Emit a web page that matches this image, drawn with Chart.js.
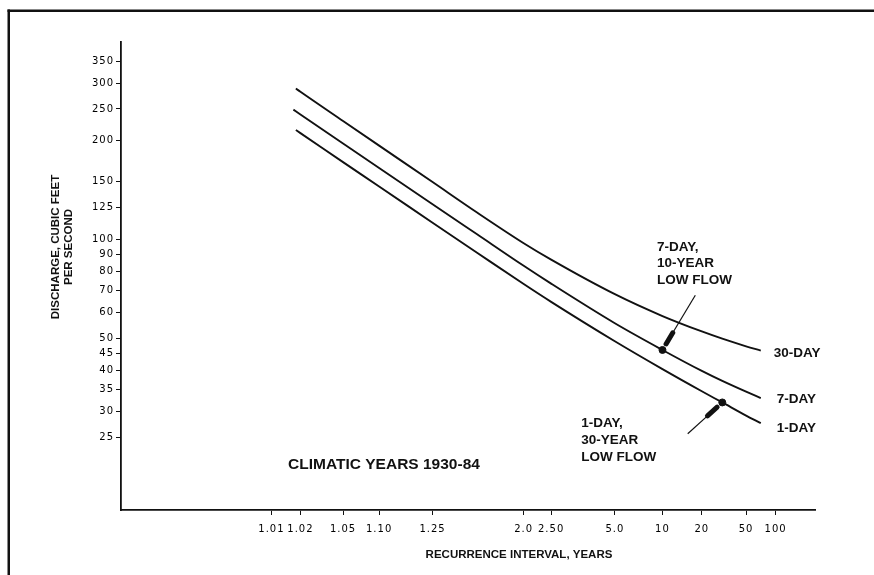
<!DOCTYPE html>
<html>
<head>
<meta charset="utf-8">
<script src="https://cdn.jsdelivr.net/npm/chart.js@4.4.1/dist/chart.umd.min.js"></script>
<style>
  html, body { margin: 0; padding: 0; background: #fff; }
  #wrap { width: 874px; height: 575px; }
</style>
</head>
<body>
<div id="wrap"><canvas id="flow-chart" width="874" height="575"></canvas></div>
<script>
// tick marks on the recurrence interval axis
var xTickValues = [1.01, 1.02, 1.05, 1.10, 1.25, 2.0, 2.50, 5.0, 10, 20, 50, 100];
var xTickLabels = ["1.01", "1.02", "1.05", "1.10", "1.25", "2.0", "2.50", "5.0", "10", "20", "50", "100"];
var yTickValues = [25, 30, 35, 40, 45, 50, 60, 70, 80, 90, 100, 125, 150, 200, 250, 300, 350];

// recurrence interval (years) and discharge (cfs)
var interval30Day = [1.018, 1.02, 1.05, 1.1, 1.25, 1.5, 2, 2.5, 5, 10, 20, 30, 50, 70];
var flow30Day = [288.6, 282.1, 229.8, 193.3, 149.7, 120.9, 97.5, 86.9, 68.2, 58.5, 52.5, 49.9, 47.3, 45.9];

var interval7Day = [1.017, 1.02, 1.05, 1.1, 1.25, 1.5, 2, 2.5, 5, 10, 20, 30, 50, 70];
var flow7Day = [248.9, 240.5, 196.3, 165.3, 128.2, 103.8, 83.2, 73.4, 55.6, 46.1, 39.8, 37.1, 34.4, 32.9];

var interval1Day = [1.018, 1.02, 1.05, 1.1, 1.25, 1.5, 2, 2.5, 5, 10, 20, 30, 50, 70];
var flow1Day = [215.7, 211.1, 172.2, 145.2, 112.6, 91.2, 73.2, 64.6, 49.0, 40.3, 34.5, 31.9, 29.1, 27.6];

// 7-day 10-year and 1-day 30-year low flows
var lowFlowInterval = [10, 30];
var lowFlowValue = [46.1, 31.9];

var curveLabels = ["30-DAY", "7-DAY", "1-DAY"];

// inverse of the standard normal cdf (Acklam)
function normInv(p) {
    var a = [-3.969683028665376e+01, 2.209460984245205e+02, -2.759285104469687e+02, 1.383577518672690e+02, -3.066479806614716e+01, 2.506628277459239e+00];
    var b = [-5.447609879822406e+01, 1.615858368580409e+02, -1.556989798598866e+02, 6.680131188771972e+01, -1.328068155288572e+01];
    var c = [-7.784894002430293e-03, -3.223964580411365e-01, -2.400758277161838e+00, -2.549732539343734e+00, 4.374664141464968e+00, 2.938163982698783e+00];
    var d = [7.784695709041462e-03, 3.224671290700398e-01, 2.445134137142996e+00, 3.754408661907416e+00];
    var q, r;
    if (p < 0.02425) {
        q = Math.sqrt(-2 * Math.log(p));
        return (((((c[0]*q+c[1])*q+c[2])*q+c[3])*q+c[4])*q+c[5]) / ((((d[0]*q+d[1])*q+d[2])*q+d[3])*q+1);
    }
    if (p > 1 - 0.02425) {
        q = Math.sqrt(-2 * Math.log(1 - p));
        return -(((((c[0]*q+c[1])*q+c[2])*q+c[3])*q+c[4])*q+c[5]) / ((((d[0]*q+d[1])*q+d[2])*q+d[3])*q+1);
    }
    q = p - 0.5; r = q * q;
    return (((((a[0]*r+a[1])*r+a[2])*r+a[3])*r+a[4])*r+a[5])*q / (((((b[0]*r+b[1])*r+b[2])*r+b[3])*r+b[4])*r+1);
}
function normCdf(z) {
    var t = 1 / (1 + 0.2316419 * Math.abs(z));
    var y = 0.3989423 * Math.exp(-z * z / 2) * t * (0.3193815 + t * (-0.3565638 + t * (1.781478 + t * (-1.821256 + t * 1.330274))));
    return z > 0 ? 1 - y : y;
}
function zOf(T) { return normInv(1 - 1 / T); }

// normal probability axis, values are recurrence intervals
class ProbabilityScale extends Chart.Scale {
    determineDataLimits() {
        this.min = this.options.min;
        this.max = this.options.max;
    }
    buildTicks() {
        return xTickValues.map(function(v) { return { value: v }; });
    }
    configure() {
        super.configure();
        this._zMin = zOf(this.min);
        this._zMax = zOf(this.max);
    }
    getPixelForValue(v) {
        return this.getPixelForDecimal((zOf(v) - this._zMin) / (this._zMax - this._zMin));
    }
    getValueForPixel(px) {
        var z = this._zMin + this.getDecimalForPixel(px) * (this._zMax - this._zMin);
        return 1 / (1 - normCdf(z));
    }
    getLabelForValue(v) { return String(v); }
}
ProbabilityScale.id = "probability";
ProbabilityScale.defaults = {};
Chart.register(ProbabilityScale);

function points(xs, ys) {
    return xs.map(function(x, i) { return { x: x, y: ys[i] }; });
}

var ink = "#111";
var labelFont = "bold 13.5px 'Liberation Sans', Arial, sans-serif";

// text blocks placed in data coordinates
var notes = [
    { lines: ["CLIMATIC YEARS 1930-84"], at: [1.015, 20.6], step: 0, font: "bold 15.5px 'Liberation Sans', Arial, sans-serif" },
    { lines: ["7-DAY,", "10-YEAR", "LOW FLOW"], at: [9.17, 94.8], step: 16.5, font: labelFont },
    { lines: ["1-DAY,", "30-YEAR", "LOW FLOW"], at: [3.36, 27.5], step: 17, font: labelFont }
];
// arrows start point, pointing at the low flow dots
var arrowStarts = [[17.7, 67.7], [15.4, 25.6]];

var annotate = {
    id: "annotate",
    beforeDraw: function(chart) {
        chart.ctx.letterSpacing = "1px";
    },
    afterDraw: function(chart) {
        var ctx = chart.ctx, xs = chart.scales.x, ys = chart.scales.y, area = chart.chartArea;
        ctx.save();
        ctx.letterSpacing = "0px";
        ctx.fillStyle = ink;
        ctx.strokeStyle = ink;

        // frame
        ctx.fillRect(7.5, 9.5, 2.5, 575);
        ctx.fillRect(7.5, 9.5, 874, 2.5);

        ctx.textBaseline = "middle";
        ctx.textAlign = "left";
        notes.forEach(function(n) {
            ctx.font = n.font;
            var px = xs.getPixelForValue(n.at[0]), py = ys.getPixelForValue(n.at[1]);
            n.lines.forEach(function(line, i) {
                ctx.fillText(line, px, py + i * n.step);
            });
        });

        // curve end labels
        ctx.font = labelFont;
        var offsets = [[13, 3], [16, 1], [16, 5]];
        for (var i = 0; i < 3; i++) {
            var pts = chart.getDatasetMeta(i).data;
            var last = pts[pts.length - 1];
            ctx.fillText(curveLabels[i], last.x + offsets[i][0], last.y + offsets[i][1]);
        }

        // arrows
        var dots = chart.getDatasetMeta(3).data;
        arrowStarts.forEach(function(s, k) {
            var sx = xs.getPixelForValue(s[0]), sy = ys.getPixelForValue(s[1]);
            var dx = dots[k].x - sx, dy = dots[k].y - sy;
            var len = Math.sqrt(dx * dx + dy * dy), ux = dx / len, uy = dy / len;
            var tipX = dots[k].x - ux * 7, tipY = dots[k].y - uy * 7;
            var baseX = tipX - ux * 13, baseY = tipY - uy * 13;
            ctx.lineWidth = 1.2;
            ctx.beginPath();
            ctx.moveTo(sx, sy);
            ctx.lineTo(baseX, baseY);
            ctx.stroke();
            ctx.lineWidth = 5;
            ctx.lineCap = "round";
            ctx.beginPath();
            ctx.moveTo(baseX, baseY);
            ctx.lineTo(tipX, tipY);
            ctx.stroke();
            ctx.lineCap = "butt";
        });

        // axis titles
        ctx.font = "bold 11.5px 'Liberation Sans', Arial, sans-serif";
        ctx.textAlign = "center";
        ctx.fillText("RECURRENCE INTERVAL, YEARS", (area.left + area.right) / 2 + 51, area.bottom + 45);
        ctx.translate(area.left - 59, area.top + 205);
        ctx.rotate(-Math.PI / 2);
        ctx.fillText("DISCHARGE, CUBIC FEET", 0, -6);
        ctx.fillText("PER SECOND", 0, 6.5);
        ctx.restore();
    }
};

var curveStyle = { borderColor: ink, borderWidth: 1.9, pointRadius: 0, fill: false, cubicInterpolationMode: "monotone" };

new Chart(document.getElementById("flow-chart"), {
    type: "line",
    data: {
        datasets: [
            Object.assign({ label: "30-DAY", data: points(interval30Day, flow30Day) }, curveStyle),
            Object.assign({ label: "7-DAY", data: points(interval7Day, flow7Day) }, curveStyle),
            Object.assign({ label: "1-DAY", data: points(interval1Day, flow1Day) }, curveStyle),
            {
                label: "Low flow",
                data: points(lowFlowInterval, lowFlowValue),
                showLine: false,
                pointRadius: 3.5,
                pointBackgroundColor: ink,
                pointBorderColor: ink
            }
        ]
    },
    options: {
        responsive: false,
        animation: false,
        events: [],
        layout: { padding: { left: 0, right: 59, top: 42, bottom: 0 } },
        plugins: { legend: { display: false }, tooltip: { enabled: false } },
        scales: {
            x: {
                type: "probability",
                position: "bottom",
                min: 1.0001,
                max: 280,
                border: { color: ink, width: 1.8 },
                grid: { drawOnChartArea: false, drawTicks: true, tickLength: 5, color: ink, lineWidth: 1 },
                ticks: {
                    autoSkip: false,
                    maxRotation: 0,
                    padding: 8,
                    color: "#000",
                    font: { family: "'DejaVu Sans', sans-serif", size: 10 },
                    callback: function(v, i) { return xTickLabels[i]; }
                },
                afterFit: function(s) { s.height = 65; }
            },
            y: {
                type: "logarithmic",
                position: "left",
                min: 15,
                max: 400,
                bounds: "data",
                border: { color: ink, width: 1.8 },
                grid: { drawOnChartArea: false, drawTicks: true, tickLength: 5, color: ink, lineWidth: 1 },
                ticks: {
                    padding: 2,
                    color: "#000",
                    font: { family: "'DejaVu Sans', sans-serif", size: 10 },
                    callback: function(v) { return String(v); }
                },
                afterBuildTicks: function(s) {
                    s.ticks = yTickValues.map(function(v) { return { value: v }; });
                },
                afterFit: function(s) { s.width = 121; }
            }
        }
    },
    plugins: [annotate]
});
</script>
</body>
</html>
